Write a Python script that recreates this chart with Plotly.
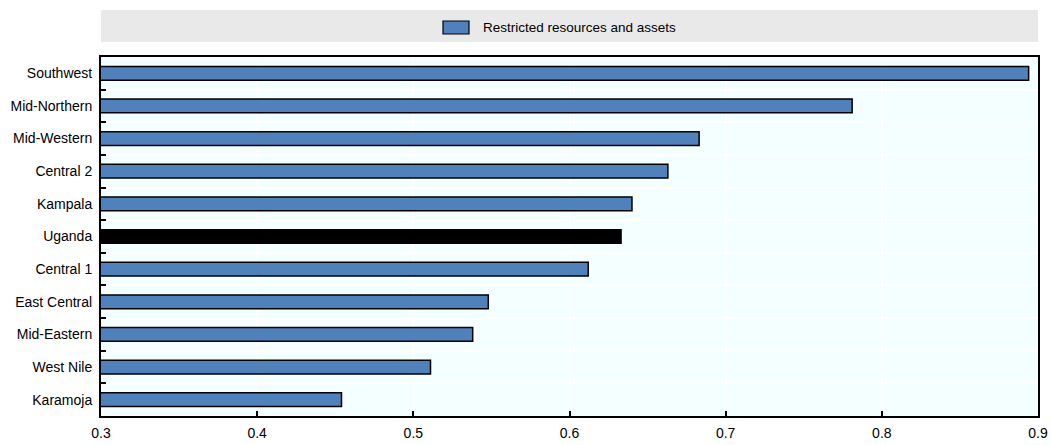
import plotly.graph_objects as go

regions = ["Southwest", "Mid-Northern", "Mid-Western", "Central 2", "Kampala", "Uganda",
           "Central 1", "East Central", "Mid-Eastern", "West Nile", "Karamoja"]
values = [0.894, 0.781, 0.683, 0.663, 0.640, 0.633, 0.612, 0.548, 0.538, 0.511, 0.454]
series_name = "Restricted resources and assets"
x_ticks = [0.3, 0.4, 0.5, 0.6, 0.7, 0.8, 0.9]

BLUE = "#4F81BD"
colors = ["#000000" if r == "Uganda" else BLUE for r in regions]
FONT = "Liberation Sans, Arial, sans-serif"

# target plot area in page pixels (body margin removed by post_script)
PL, PR, PT, PB = 101, 1038, 57, 416
W, H = 1051, 445
pw = PR - PL
ph = PB - PT


def px(x):
    return (x - PL) / pw


def py(y):
    return (PB - y) / ph


fig = go.Figure()
fig.add_trace(go.Bar(
    y=regions, x=values, orientation="h", name=series_name,
    marker=dict(color=colors, line=dict(color="#000000", width=1.5)),
    width=0.42, showlegend=False,
))

fig.update_layout(
    width=W, height=H,
    margin=dict(l=PL, r=W - PR, t=PT, b=H - PB, pad=0),
    paper_bgcolor="white",
    plot_bgcolor="#F4FFFF",
    font=dict(family=FONT, size=14, color="#000000"),
    xaxis=dict(
        range=[0.3, 0.9], tickvals=x_ticks, ticktext=[f"{v:.1f}" for v in x_ticks],
        showgrid=True, gridcolor="white", gridwidth=2,
        showline=True, linecolor="#000000", linewidth=2, mirror=True,
        ticks="inside", ticklen=5, tickwidth=2, tickcolor="#000000",
        ticklabelstandoff=3, automargin=False,
        zeroline=False, fixedrange=True,
    ),
    yaxis=dict(
        categoryorder="array", categoryarray=regions, autorange="reversed",
        tickson="boundaries", ticks="inside", ticklen=5, tickwidth=2, tickcolor="#000000",
        showgrid=True, gridcolor="white", gridwidth=2,
        showline=True, linecolor="#000000", linewidth=2, mirror=True,
        ticklabelstandoff=4, automargin=False, fixedrange=True,
    ),
)

# legend band drawn manually
fig.add_shape(type="rect", xref="paper", yref="paper", x0=0, x1=1,
              y0=py(42), y1=py(10),
              fillcolor="#E9E9E9", line=dict(width=0), layer="below")
fig.add_shape(type="rect", xref="paper", yref="paper",
              x0=px(443), x1=px(469), y0=py(34), y1=py(21),
              fillcolor=BLUE, line=dict(color="#000000", width=1.2))
fig.add_annotation(xref="paper", yref="paper", x=px(481), y=py(27.5),
                   text=series_name, showarrow=False, xanchor="left", yanchor="middle",
                   font=dict(family=FONT, size=13.5, color="#000000"))

fig.write_html(
    "out.html",
    config={"displayModeBar": False},
    post_script="document.body.style.margin='0';document.body.style.overflow='hidden';",
)
